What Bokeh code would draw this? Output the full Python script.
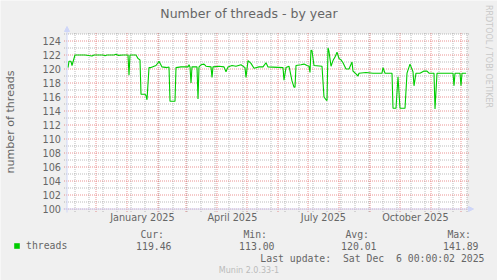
import math
import pandas as pd
from bokeh.plotting import figure
from bokeh.models import (FixedTicker, Label, Legend, LegendItem, Arrow,
                          NormalHead, Range1d, ColumnDataSource, BoxAnnotation)
from bokeh.embed import file_html
from bokeh.resources import INLINE

# ---------------- data ----------------
dates = [
    "2024-11-03", "2024-11-04", "2024-11-06", "2024-11-07", "2024-11-08", "2024-11-10",
    "2024-11-20", "2024-11-27", "2024-11-29", "2024-12-08", "2024-12-10", "2024-12-12",
    "2024-12-19", "2024-12-21", "2024-12-23", "2024-12-28", "2025-01-02", "2025-01-03",
    "2025-01-04", "2025-01-10", "2025-01-12", "2025-01-14", "2025-01-15", "2025-01-19",
    "2025-01-20", "2025-01-21", "2025-01-23", "2025-01-25", "2025-01-30", "2025-02-01",
    "2025-02-02", "2025-02-05", "2025-02-10", "2025-02-12", "2025-02-13", "2025-02-18",
    "2025-02-19", "2025-02-24", "2025-03-03", "2025-03-04", "2025-03-05", "2025-03-06",
    "2025-03-07", "2025-03-12", "2025-03-13", "2025-03-14", "2025-03-16", "2025-03-19",
    "2025-03-21", "2025-03-26", "2025-03-27", "2025-03-28", "2025-04-03", "2025-04-08",
    "2025-04-10", "2025-04-12", "2025-04-16", "2025-04-20", "2025-04-25", "2025-04-29",
    "2025-04-30", "2025-05-02", "2025-05-05", "2025-05-08", "2025-05-13", "2025-05-17",
    "2025-05-20", "2025-05-22", "2025-06-06", "2025-06-07", "2025-06-09", "2025-06-12",
    "2025-06-15", "2025-06-17", "2025-06-18", "2025-06-19", "2025-06-24", "2025-06-27",
    "2025-06-30", "2025-07-02", "2025-07-03", "2025-07-04", "2025-07-05", "2025-07-07",
    "2025-07-15", "2025-07-17", "2025-07-19", "2025-07-20", "2025-07-21", "2025-07-22",
    "2025-07-24", "2025-07-26", "2025-07-28", "2025-07-30", "2025-08-01", "2025-08-03",
    "2025-08-05", "2025-08-08", "2025-08-11", "2025-08-14", "2025-08-15", "2025-08-18",
    "2025-08-20", "2025-08-21", "2025-08-28", "2025-09-04", "2025-09-13", "2025-09-14",
    "2025-09-16", "2025-09-23", "2025-09-24", "2025-09-27", "2025-09-29", "2025-10-01",
    "2025-10-06", "2025-10-08", "2025-10-11", "2025-10-14", "2025-10-15", "2025-10-17",
    "2025-10-21", "2025-10-25", "2025-10-28", "2025-10-30", "2025-11-04", "2025-11-05",
    "2025-11-07", "2025-11-23", "2025-11-24", "2025-11-25", "2025-11-30", "2025-12-01",
    "2025-12-02", "2025-12-06",
]
threads = [
    120.2, 121.1, 121.1, 120.5, 121.0, 122.0,
    122.0, 121.85, 122.0, 122.0, 121.9, 122.0,
    122.0, 122.1, 121.95, 122.0, 122.0, 119.1,
    122.0, 122.0, 121.5, 121.3, 116.4, 116.4,
    116.2, 115.6, 120.2, 120.2, 120.5, 120.9,
    121.1, 120.3, 120.2, 120.3, 115.4, 115.4,
    120.2, 120.3, 120.3, 120.6, 120.3, 118.0,
    120.3, 120.3, 115.7, 120.3, 120.6, 120.7,
    120.4, 120.3, 118.8, 120.3, 120.4, 120.3,
    119.6, 120.3, 120.5, 120.4, 120.6, 120.2,
    118.8, 121.2, 120.8, 120.1, 120.3, 120.3,
    120.9, 120.3, 120.2, 118.4, 120.2, 120.4,
    118.3, 117.4, 117.4, 120.5, 120.6, 120.7,
    120.5, 120.4, 119.5, 122.7, 122.6, 120.5,
    120.4, 116.0, 115.6, 115.5, 123.0, 122.5,
    120.4, 121.2, 121.7, 122.4, 121.5, 121.3,
    120.9, 120.0, 120.0, 121.0, 119.7, 119.3,
    119.0, 119.4, 119.5, 119.4, 119.4, 120.2,
    119.4, 119.4, 114.4, 114.4, 118.9, 114.4,
    114.4, 119.4, 120.7, 119.6, 117.6, 119.4,
    119.4, 119.7, 119.7, 119.4, 119.4, 114.3,
    119.4, 119.4, 117.6, 119.4, 119.4, 117.6,
    119.4, 119.4,
]
y_ticks = [100, 102, 104, 106, 108, 110, 112, 114, 116, 118, 120, 122, 124]
y_minor = [101, 103, 105, 107, 109, 111, 113, 115, 117, 119, 121, 123, 125]
x_label_dates = ["2025-01-16 10:00", "2025-04-16 10:00", "2025-07-16 10:00", "2025-10-16 10:00"]
x_labels = ["January 2025", "April 2025", "July 2025", "October 2025"]
month_starts = ["2024-12-01", "2025-01-01", "2025-02-01", "2025-03-01", "2025-04-01",
                "2025-05-01", "2025-06-01", "2025-07-01", "2025-08-01", "2025-09-01",
                "2025-10-01", "2025-11-01", "2025-12-01"]
week_lines = [str(d.date()) for d in pd.date_range("2024-11-10", "2025-12-07", freq="14D")]
series_name = "threads"
stat_names = ["Cur:", "Min:", "Avg:", "Max:"]
stat_values = ["119.46", "113.00", "120.01", "141.89"]
last_update = "Last update:  Sat Dec  6 00:00:02 2025"
range_start = "2024-11-02 00:00"
range_end = "2025-12-07 00:00"
y_min, y_max = 100, 125


def ms(s):
    return int(pd.Timestamp(s).value // 10**6)


# ---------------- layout (canvas pixels) ----------------
W, H = 497, 280
PL, PR, PT, PB = 66.5, 466.5, 33.5, 208.5   # plot area edges

x0, x1 = ms(range_start), ms(range_end)
xpp = (x1 - x0) / (PR - PL)          # data units per pixel
ypp = (y_max - y_min) / (PB - PT)

FONT = "DejaVu Sans"
MONO = "DejaVu Sans Mono"
TXT = "#666666"
AXIS = "#CFD6F8"
MINOR = "#8F8F8F"
MAJOR = "#DE4F4F"

p = figure(width=W, height=H, output_backend="svg", toolbar_location=None,
           x_axis_type="datetime",
           x_range=Range1d(x0 - PL * xpp, x1 + (W - PR) * xpp),
           y_range=Range1d(y_min - (H - PB) * ypp, y_max + PT * ypp),
           min_border=0, min_border_left=0, min_border_right=0,
           min_border_top=0, min_border_bottom=0)
p.background_fill_color = "#F0F0F0"
p.border_fill_color = "#F0F0F0"
p.outline_line_color = None
p.xgrid.visible = False
p.ygrid.visible = False

# white canvas of the graph
p.add_layout(BoxAnnotation(left=x0, right=x1, bottom=y_min, top=y_max,
                           fill_color="#FFFFFF", fill_alpha=1, line_color=None,
                           level="underlay"))

# grid lines (minor first, major on top)
hx0, hx1 = x0 - 3 * xpp, x1 + 2 * xpp
vy0, vy1 = y_min - 3 * ypp, y_max + 2 * ypp
wk = [ms(d) for d in week_lines]
p.segment(x0=wk, x1=wk, y0=[vy0] * len(wk), y1=[vy1] * len(wk),
          line_color=MINOR, line_width=1, line_dash="1 1", line_alpha=0.6)
p.segment(x0=[hx0] * len(y_minor), x1=[hx1] * len(y_minor), y0=y_minor, y1=y_minor,
          line_color=MINOR, line_width=1, line_dash="1 1", line_alpha=0.6)
mo = [ms(d) for d in month_starts]
p.segment(x0=mo, x1=mo, y0=[vy0] * len(mo), y1=[vy1] * len(mo),
          line_color=MAJOR, line_width=1, line_dash="1 1", line_alpha=0.6)
p.segment(x0=[hx0] * len(y_ticks), x1=[hx1] * len(y_ticks), y0=y_ticks, y1=y_ticks,
          line_color=MAJOR, line_width=1, line_dash="1 1", line_alpha=0.6)

# axes (placed at the graph edges)
xa = p.xaxis[0]
xa.fixed_location = y_min
xa.bounds = (x0, x1)
xa.ticker = FixedTicker(ticks=[ms(d) for d in x_label_dates])
xa.major_label_overrides = {ms(d): t for d, t in zip(x_label_dates, x_labels)}
ya = p.yaxis[0]
ya.fixed_location = x0
ya.bounds = (y_min, y_max)
ya.ticker = FixedTicker(ticks=y_ticks)
ya.axis_label = "number of threads"
for ax in (xa, ya):
    ax.axis_line_color = None
    ax.major_tick_line_color = None
    ax.minor_tick_line_color = None
    ax.major_tick_out = 0
    ax.major_tick_in = 0
    ax.minor_tick_out = 0
    ax.minor_tick_in = 0
    ax.major_label_text_font = FONT
    ax.major_label_text_font_size = "9.7px"
    ax.major_label_text_color = TXT
xa.major_label_standoff = 3
ya.major_label_standoff = 6
ya.axis_label_text_font = FONT
ya.axis_label_text_font_size = "11.1px"
ya.axis_label_text_font_style = "normal"
ya.axis_label_text_color = TXT
ya.axis_label_standoff = 23

# series
src = ColumnDataSource(dict(x=pd.to_datetime(dates), y=threads))
line = p.line("x", "y", source=src, line_color="#00CC00", line_width=1.1)
# zero-area quad used only as the legend key
key = p.quad(left=[x1], right=[x1], top=[y_min], bottom=[y_min],
             fill_color="#00CC00", line_color=None)


def sc(X, Y):
    """canvas pixel (from top-left) -> screen units (from bottom-left)"""
    return X, H - Y


# axis lines with arrows
ax_s, ay_s = sc(63, PB)
bx_s, by_s = sc(473, PB)
p.add_layout(Arrow(start_units="screen", end_units="screen",
                   x_start=ax_s, y_start=ay_s, x_end=bx_s, y_end=by_s,
                   line_color=AXIS, line_width=1,
                   end=NormalHead(size=5, fill_color=AXIS, line_color=AXIS)))
cx_s, cy_s = sc(PL, 212)
dx_s, dy_s = sc(PL, 26)
p.add_layout(Arrow(start_units="screen", end_units="screen",
                   x_start=cx_s, y_start=cy_s, x_end=dx_s, y_end=dy_s,
                   line_color=AXIS, line_width=1,
                   end=NormalHead(size=5, fill_color=AXIS, line_color=AXIS)))


def label(X, Y, text, font, size, color, align="center", angle=0.0):
    lx, ly = sc(X, Y)
    p.add_layout(Label(x=lx, y=ly, x_units="screen", y_units="screen", text=text,
                       text_font=font, text_font_size=size, text_color=color,
                       text_align=align, text_baseline="middle", angle=angle))


label(248.5, 13, "Number of threads - by year", FONT, "12.5px", TXT)
label(488, 56, "RRDTOOL / TOBI OETIKER", FONT, "8px", "#C8C8C8", angle=-math.pi / 2)

# legend
lg_x, lg_y = sc(13, 251)
legend = Legend(items=[LegendItem(label=series_name, renderers=[key])],
                location=(lg_x, lg_y), glyph_width=7, glyph_height=7,
                label_standoff=6, padding=0, margin=0, spacing=0,
                label_text_font=MONO, label_text_font_size="9.8px",
                label_text_color=TXT, label_height=7,
                background_fill_alpha=0, border_line_alpha=0)
p.add_layout(legend)

head_x = [163.5, 266.5, 368.5, 470.5]
val_x = [171, 274, 376, 478]
for name, val, hx, vx in zip(stat_names, stat_values, head_x, val_x):
    label(hx, 233.5, name, MONO, "9.8px", TXT, align="right")
    label(vx, 245, val, MONO, "9.8px", TXT, align="right")
label(484, 257.5, last_update.replace("  ", " \u00a0"), MONO, "9.8px", TXT, align="right")
label(248.5, 269.5, "Munin 2.0.33-1", FONT, "8px", "#BBBBBB")

open("out.html", "w").write(file_html(p, INLINE))
